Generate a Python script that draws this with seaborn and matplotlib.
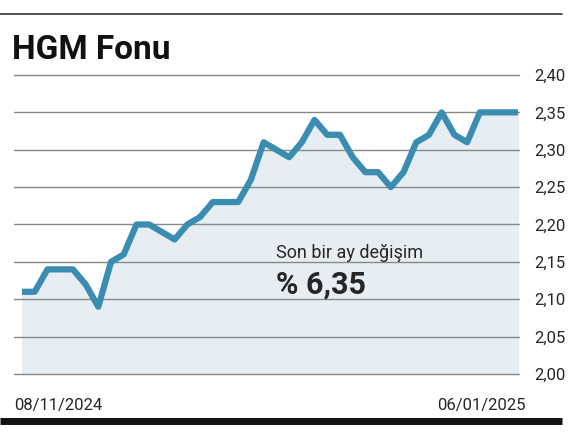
import matplotlib
matplotlib.use("Agg")
import matplotlib.pyplot as plt
import seaborn as sns
import pandas as pd
import numpy as np

values = [2.11,2.11,2.14,2.14,2.14,2.12,2.09,2.15,2.16,2.20,2.20,2.19,2.18,2.20,2.21,2.23,2.23,2.23,2.26,2.31,
          2.30,2.29,2.31,2.34,2.32,2.32,2.29,2.27,2.27,2.25,2.27,2.31,2.32,2.35,2.32,2.31,2.35,2.35,2.35,2.35]
yticks = [2.00,2.05,2.10,2.15,2.20,2.25,2.30,2.35,2.40]
start_label = "08/11/2024"
end_label = "06/01/2025"

sns.set_theme(style="white")
plt.rcParams['font.family'] = ['Roboto', 'DejaVu Sans']

df = pd.DataFrame({"i": np.arange(len(values)), "v": values})
fig = plt.figure(figsize=(5.71, 4.44), dpi=100)
ax = fig.add_axes([22/571, 1-374/444, (518-22)/571, (374-75)/444])
ax.fill_between(df["i"], df["v"], 2.0, color="#e6eef4", zorder=1)
sns.lineplot(data=df, x="i", y="v", ax=ax, color="#3a8db0", linewidth=4.5, zorder=3)
ax.set_xlim(0, len(values)-1)
ax.set_ylim(2.0, 2.40)
ax.set_yticks(yticks)
ax.set_yticklabels([f"{t:.2f}".replace(".", ",") for t in yticks], fontsize=12)
ax.yaxis.tick_right()
ax.tick_params(axis="y", length=0, pad=12)
ax.set_xticks([])
ax.set_xlabel(""); ax.set_ylabel("")
for s in ax.spines.values():
    s.set_visible(False)
for t in yticks:
    ax.plot([-0.6, len(values)-0.9], [t, t], color="#888888", lw=1, zorder=2, clip_on=False)

fig.add_artist(plt.Line2D([0.0, 0.985], [1-14/444]*2, color="#333333", lw=1.2))
fig.add_artist(plt.Line2D([0.0, 0.985], [1-421/444]*2, color="#111111", lw=5, solid_capstyle="butt"))
fig.text(12/571, 1-50/444, "HGM Fonu", fontsize=24, fontweight="bold", va="center", color="#111111")
fig.text(14/571, 1-405/444, start_label, fontsize=12, va="center")
fig.text(526/571, 1-405/444, end_label, fontsize=12, va="center", ha="right")
fig.text(276/571, 1-253/444, "Son bir ay değişim", fontsize=13, va="center")
fig.text(276/571, 1-285/444, "% 6,35", fontsize=22, fontweight="bold", va="center")
fig.savefig("out.png", dpi=100)
